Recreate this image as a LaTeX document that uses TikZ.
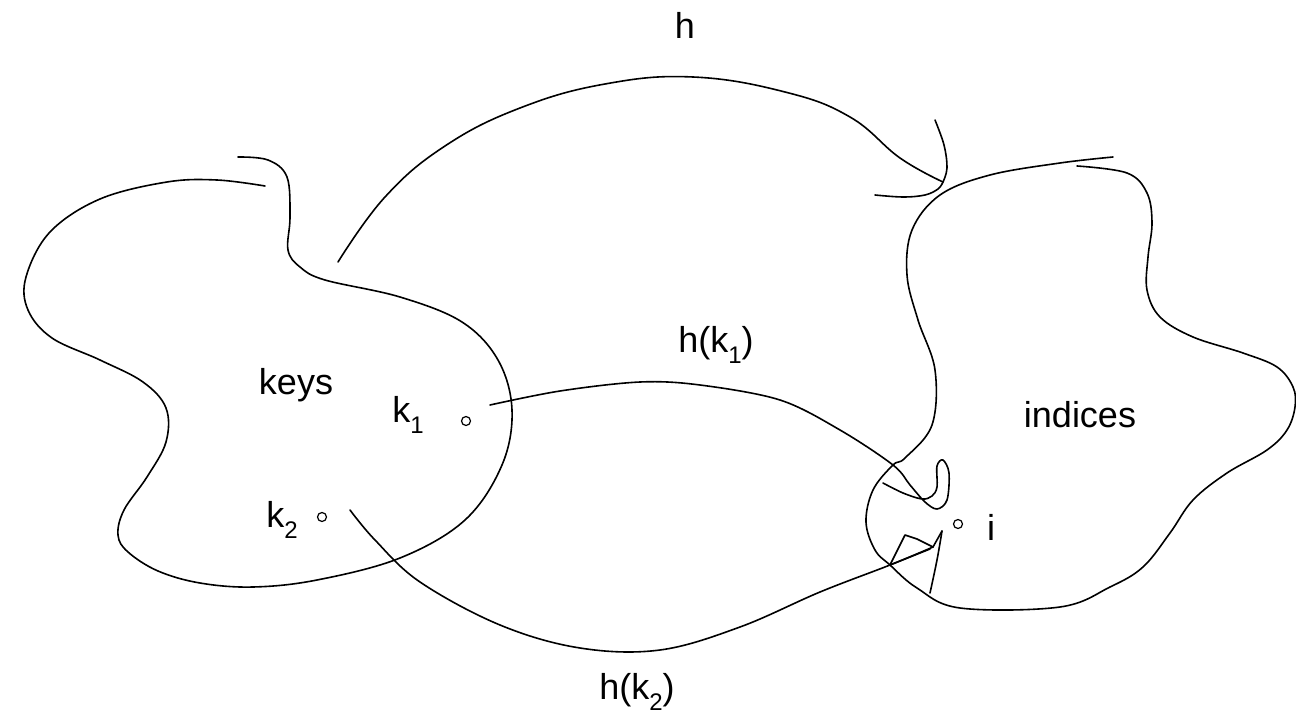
\documentclass[tikz,border=0pt]{standalone}
\usepackage{fontspec}
\setmainfont{Liberation Sans}
\newcommand{\lowsub}[1]{\raisebox{-0.55ex}{\fontsize{12}{12}\selectfont #1}}
\begin{document}
\begin{tikzpicture}[x=0.5pt,y=-0.5pt,
  sketch/.style={line width=0.8pt,line cap=round,line join=round},
  lbl/.style={font=\fontsize{18}{20}\selectfont,inner sep=0pt},
  dot/.style={circle,draw,line width=0.6pt,inner sep=0pt,minimum size=4.5pt}]
\useasboundingbox (0,0) rectangle (1296,717);
% labels
\node[lbl] (h) at (685,25) {h};
\node[lbl] (hk1) at (716,345) {h(k\lowsub{1})};
\node[lbl] (keys) at (296,385) {keys};
\node[lbl] (k1) at (408,415) {k\lowsub{1}};
\node[lbl] (k2) at (282,520) {k\lowsub{2}};
\node[lbl] (indices) at (1080,415) {indices};
\node[lbl] (i) at (991,527) {i};
\node[lbl] (hk2) at (637,692) {h(k\lowsub{2})};
% small circles
\node[dot] (p1) at (466,421) {};
\node[dot] (p2) at (322,517) {};
\node[dot] (pi) at (958,524) {};
% keys blob
\draw[sketch] plot[smooth,tension=0.6] coordinates {(265,186) (217,180) (167,182) (100,199) (50,232) (26,277) (28,310) (52,338) (100,360) (143,382) (166,408) (166,442) (147,477) (124,510) (118,535) (128,552) (158,571) (200,583) (253,587) (317,580) (400,558) (465,520) (502,465) (512,410) (498,360) (462,322) (400,297) (325,280) (300,267) (288,250) (290,217) (287,177) (268,160) (238,157)};
% indices blob
\draw[sketch] plot[smooth,tension=0.6] coordinates {(1113,157) (1060,163) (990,175) (940,195) (912,230) (907,275) (918,320) (935,370) (932,425) (905,458) (893,465) (873,490) (866,522) (875,550) (890,565) (917,588) (960,608) (1060,607) (1110,587) (1143,567) (1170,533) (1193,500) (1227,473) (1267,450) (1287,430) (1295,407) (1293,387) (1277,367) (1243,353) (1193,337) (1160,317) (1147,290) (1148,257) (1152,223) (1147,193) (1127,173) (1077,166)};
% h arrow
\coordinate (hs) at (338,262);
\coordinate (ht) at (943,182);
\draw[sketch] plot[smooth,tension=0.7] coordinates {(hs) (385,197) (445,146) (520,108) (605,84) (693,77) (785,92) (850,117) (900,158) (ht)};
\draw[sketch] plot[smooth,tension=0.6] coordinates {(ht) (947,168) (944,145) (935,120)};
\draw[sketch] plot[smooth,tension=0.6] coordinates {(ht) (938,189) (925,195) (903,197) (875,195)};
% h(k1) arrow
\coordinate (a1) at (490,405);
\coordinate (e1) at (883,483);
\draw[sketch] plot[smooth,tension=0.55] coordinates {(a1) (560,391) (640,382) (700,385) (780,400) (840,430) (893,465) (910,485) (925,502) (937,509) (947,500) (949,473) (943,460) (937,466) (937,487) (932,496) (922,499) (903,493) (e1)};
% h(k2) arrow
\coordinate (a2) at (350,510);
\coordinate (t2) at (933,547);
\draw[sketch] plot[smooth,tension=0.6] coordinates {(a2) (375,540) (420,582) (500,625) (580,648) (660,650) (740,627) (820,592) (890,565) (t2)};
\draw[sketch] (890,565) -- (905,535) -- (917,539) -- (t2);
\draw[sketch] (890,565) -- (930,549);
\draw[sketch] plot[smooth,tension=0.6] coordinates {(942,531) (937,560) (930,593)};
\draw[sketch] (t2) -- (942,531);
\end{tikzpicture}
\end{document}
